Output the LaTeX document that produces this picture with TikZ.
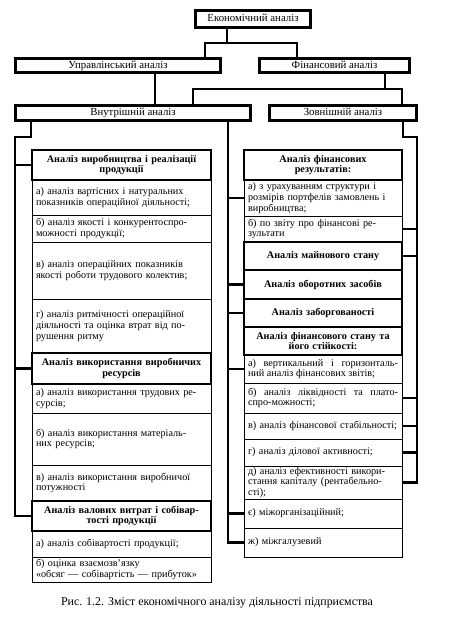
\documentclass[tikz,border=0pt]{standalone}
\usepackage{fontspec}
\setmainfont{Liberation Serif}
\usetikzlibrary{positioning}

\begin{document}
\begin{tikzpicture}[
  x=1pt, y=-1pt,
  font=\fontsize{10.2}{10.8}\selectfont,
  top/.style={draw, line width=2.6pt, inner sep=0pt, outer sep=0pt, anchor=north west,
    font=\fontsize{10.8}{11}\selectfont, text height=7.2pt, text depth=2.2pt},
  hdr/.style={draw, line width=2.6pt, inner xsep=4pt, inner ysep=0.5pt, outer sep=0pt, align=center,
    font=\fontsize{10.2}{10.8}\selectfont\bfseries},
  item/.style={draw, line width=0.8pt, inner xsep=4pt, inner ysep=0.5pt, outer sep=0pt, align=left},
  jitem/.style={item, align=justify},
  lcol/.style={text width=171pt},
  rcol/.style={text width=150pt},
  conn/.style={line width=2.6pt}
]
\useasboundingbox (0,0) rectangle (463,624);
% top levels
\node[top, minimum width=115pt, minimum height=17pt] (econ) at (195.5,10.5) {Економічний аналіз};
\node[top, minimum width=205pt, minimum height=14pt] (upr) at (15.5,58.5) {Управлінський аналіз};
\node[top, minimum width=150pt, minimum height=14pt] (fin) at (259.5,58.5) {Фінансовий аналіз};
\node[top, minimum width=235pt, minimum height=15pt] (vint) at (15.5,105.5) {Внутрішній аналіз};
\node[top, minimum width=147pt, minimum height=15pt] (zov) at (269.5,105.5) {Зовнішній аналіз};

% left column
\node[hdr, lcol, minimum height=30pt, anchor=north west] (vyr) at (32,150)
  {Аналіз виробництва і реалізації\\продукції};
\node[item, lcol, minimum height=35pt, below=0pt of vyr] (vyr1)
  {а) аналіз вартісних і натуральних\\показників операційної діяльності;};
\node[item, lcol, minimum height=27pt, below=0pt of vyr1] (vyr2)
  {б) аналіз якості і конкурентоспро-\\можності продукції;};
\node[item, lcol, minimum height=57pt, below=0pt of vyr2] (vyr3)
  {в) аналіз операційних показників\\якості роботи трудового колектив;};
\node[item, lcol, minimum height=54pt, below=0pt of vyr3] (vyr4)
  {г) аналіз ритмічності операційної\\діяльності та оцінка втрат від по-\\рушення ритму};
\node[hdr, lcol, minimum height=31pt, below=0pt of vyr4] (vyk)
  {Аналіз використання виробничих\\ресурсів};
\node[item, lcol, minimum height=29pt, below=0pt of vyk] (vyk1)
  {а) аналіз використання трудових ре-\\сурсів;};
\node[item, lcol, minimum height=52pt, below=0pt of vyk1] (vyk2)
  {б) аналіз використання матеріаль-\\них ресурсів;};
\node[item, lcol, minimum height=36pt, below=0pt of vyk2] (vyk3)
  {в) аналіз використання виробничої\\потужності};
\node[hdr, lcol, minimum height=30pt, below=0pt of vyk3] (val)
  {Аналіз валових витрат і собівар-\\тості продукції};
\node[item, lcol, minimum height=26pt, below=0pt of val] (val1)
  {а) аналіз собівартості продукції;};
\node[item, lcol, minimum height=25pt, below=0pt of val1] (val2)
  {б) оцінка взаємозв’язку\\«обсяг — собівартість — прибуток»};

% right column
\node[hdr, rcol, minimum height=30pt, anchor=north west] (rfr) at (244,150)
  {Аналіз фінансових\\результатів:};
\node[item, rcol, minimum height=36pt, below=0pt of rfr] (ra)
  {а) з урахуванням структури і\\розмірів портфелів замовлень і\\виробництва;};
\node[item, rcol, minimum height=26pt, below=0pt of ra] (rb)
  {б) по звіту про фінансові ре-\\зультати};
\node[hdr, rcol, minimum height=28pt, below=0pt of rb] (mayn) {Аналіз майнового стану};
\node[hdr, rcol, minimum height=29pt, below=0pt of mayn] (obo) {Аналіз оборотних засобів};
\node[hdr, rcol, minimum height=28pt, below=0pt of obo] (zab) {Аналіз заборгованості};
\node[hdr, rcol, minimum height=28pt, below=0pt of zab] (fs)
  {Аналіз фінансового стану та\\його стійкості:};
\node[jitem, rcol, minimum height=28pt, below=0pt of fs] (fsa)
  {а) вертикальний і горизонталь-\linebreak ний аналіз фінансових звітів;};
\node[jitem, rcol, minimum height=30pt, below=0pt of fsa] (fsb)
  {б) аналіз ліквідності та плато-\linebreak спро-можності;};
\node[item, rcol, minimum height=26pt, below=0pt of fsb] (fsv)
  {\mbox{в) аналіз фінансової стабільності;}};
\node[item, rcol, minimum height=27pt, below=0pt of fsv] (fsg)
  {г) аналіз ділової активності;};
\node[item, rcol, minimum height=33pt, below=0pt of fsg] (fsd)
  {д) аналіз ефективності викори-\\стання капіталу (рентабельно-\\сті);};
\node[item, rcol, minimum height=29pt, below=0pt of fsd] (rye) {є) міжорганізаційний;};
\node[item, rcol, minimum height=29pt, below=0pt of rye] (rzh) {ж) міжгалузевий};

% connectors
\coordinate (t1) at (227,43);
\coordinate (t2) at (205,43);
\coordinate (t3) at (297,43);
\draw[conn] (econ.south -| t1) -- (t1);
\draw[conn] (upr.north -| t2) -- (t2) -- (t3) -- (fin.north -| t3);
\coordinate (u1) at (155,90);
\draw[conn] (upr.south -| u1) -- (vint.north -| u1);
\coordinate (f1) at (385,89);
\coordinate (f2) at (193,89);
\coordinate (f3) at (402,89);
\draw[conn] (fin.south -| f1) -- (f1);
\draw[conn] (vint.north -| f2) -- (f2) -- (f3) -- (zov.north -| f3);

\coordinate (a1) at (31,137);
\coordinate (a2) at (15,137);
\draw[conn] (vint.south -| a1) -- (a1) -- (a2) |- (val.west);
\foreach \n in {vyr,vyk} \draw[conn] (a2 |- \n.west) -- (\n.west);

\coordinate (m1) at (228,137);
\draw[conn] (vint.south -| m1) |- (rzh.west);
\foreach \n in {ra,obo,zab,fsa,rye} \draw[conn] (m1 |- \n.west) -- (\n.west);

\coordinate (z1) at (403,137);
\coordinate (z2) at (417,137);
\draw[conn] (zov.south -| z1) -- (z1) -- (z2) |- (fsd.east);
\foreach \n in {rb,mayn,fsb,fsv,fsg} \draw[conn] (z2 |- \n.east) -- (\n.east);

\node[font=\fontsize{11.9}{13}\selectfont] (cap) at (217,603)
  {Рис. 1.2. Зміст економічного аналізу діяльності підприємства};
\end{tikzpicture}
\end{document}
